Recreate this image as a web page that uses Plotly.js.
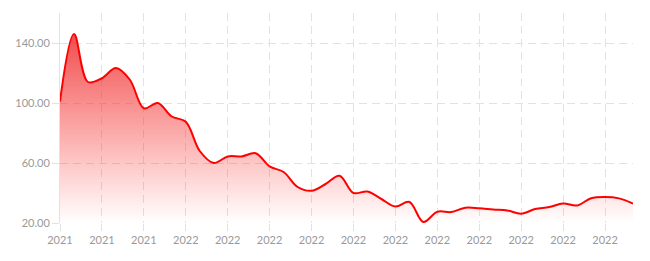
<!DOCTYPE html>
<html>
<head>
<meta charset="utf-8">
<script src="https://cdn.plot.ly/plotly-3.0.1.min.js"></script>
<style>html,body{margin:0;padding:0;background:#fff;}#chart{width:650px;height:261px;}</style>
</head>
<body>
<div id="chart"></div>
<script>
const values = [101, 146, 114, 116.5, 123.3, 115.5, 96.5, 100, 91, 87.5,
  68, 60, 64.4, 64.4, 66.5, 57.7, 54, 44, 41.5, 46,
  51.5, 40, 41, 36, 31, 34, 20.7, 27.5, 27.3, 30.2,
  29.8, 29, 28.4, 26.2, 29.3, 30.6, 33, 31.7, 36.5, 37.3,
  36.4, 32.9];
const years = ["2021","2021","2021","2022","2022","2022","2022","2022","2022","2022","2022","2022","2022","2022"];
const labelStep = 3;
const yTicks = [20, 60, 100, 140];

const xs = values.map((v, i) => i);
const tickPos = years.map((y, i) => i * labelStep);

const trace = {
  x: xs, y: values, type: 'scatter', mode: 'lines',
  line: {color: '#ff0000', width: 2, shape: 'spline', smoothing: 1},
  fill: 'tozeroy',
  fillgradient: {type: 'vertical', start: 20, stop: 150,
    colorscale: [[0, 'rgba(255,40,40,0.0)'], [1, 'rgba(236,40,40,0.85)']]},
  hoverinfo: 'skip'
};

const gridColor = '#e2e2e2';
const layout = {
  width: 650, height: 261,
  margin: {l: 60, r: 17, t: 13, b: 38},
  paper_bgcolor: '#fff', plot_bgcolor: '#fff',
  showlegend: false,
  font: {family: 'Lato, "Noto Sans", sans-serif', size: 11, color: '#999'},
  xaxis: {
    range: [0, values.length - 1], tickvals: tickPos, ticktext: years,
    showgrid: true, gridcolor: gridColor, griddash: '8px,5px', gridwidth: 1,
    ticks: 'outside', ticklen: 7, tickcolor: gridColor,
    showline: false, zeroline: false, fixedrange: true
  },
  yaxis: {
    range: [20, 160], tickvals: yTicks, tickformat: '.2f',
    showgrid: true, gridcolor: gridColor, griddash: '8px,5px', gridwidth: 1,
    ticks: 'outside', ticklen: 7, tickcolor: gridColor,
    showline: true, linecolor: gridColor, zeroline: false, fixedrange: true
  }
};
Plotly.newPlot('chart', [trace], layout, {displayModeBar: false, staticPlot: true});
</script>
</body>
</html>
